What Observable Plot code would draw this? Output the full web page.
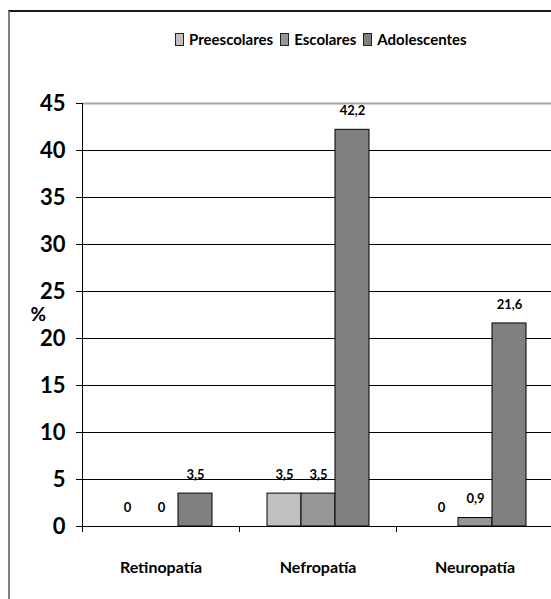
<!DOCTYPE html>
<html>
<head>
<meta charset="utf-8">
<script src="https://cdn.jsdelivr.net/npm/d3@7"></script>
<script src="https://cdn.jsdelivr.net/npm/@observablehq/plot@0.6"></script>
<style>
  html, body { margin: 0; padding: 0; background: #fff; }
  #wrap { position: relative; width: 551px; height: 599px; overflow: hidden; }
  #box { position: absolute; left: 8px; top: 10px; width: 700px; height: 700px;
         border-left: 2px solid #808080; border-top: 2px solid #1a1a1a; box-sizing: border-box; }
  #legend { position: absolute; left: 175px; top: 31px; display: flex; align-items: center;
            font-family: Lato, sans-serif;
            font-weight: bold; font-size: 15px; line-height: 16px; color: #000; white-space: nowrap; }
  #legend .sw { display: inline-block; width: 7px; height: 11px; border: 1px solid #222; margin-right: 5px; }
  #legend .item { display: inline-flex; align-items: center; margin-right: 7px; }
  #chart { position: absolute; left: 0; top: 0; }
</style>
</head>
<body>
<div id="wrap">
  <div id="box"></div>
  <div id="chart"></div>
  <div id="legend"></div>
</div>
<script>
const categories = ["Retinopatía", "Nefropatía", "Neuropatía"];
const series = ["Preescolares", "Escolares", "Adolescentes"];
const preescolares = [0, 3.5, 0];
const escolares = [0, 3.5, 0.9];
const adolescentes = [3.5, 42.2, 21.6];
const colors = ["#c0c0c0", "#969696", "#808080"];
const yTicks = [0, 5, 10, 15, 20, 25, 30, 35, 40, 45];

const seriesValues = [preescolares, escolares, adolescentes];
const data = [];
categories.forEach((c, i) => {
  series.forEach((s, j) => {
    data.push({category: c, series: s, value: seriesValues[j][i]});
  });
});
const fmt = v => String(v).replace(".", ",");

const W = 551, H = 599, mL = 82, mR = -2, mT = 103, mB = 73;
const step = (W - mL - mR) / categories.length;
const font = "Lato, sans-serif";

const chart = Plot.plot({
  width: W, height: H,
  marginTop: mT, marginBottom: mB, marginLeft: mL, marginRight: mR,
  style: {fontFamily: font, fontWeight: "bold", color: "#000", background: "transparent", overflow: "visible"},
  fx: {domain: categories, padding: 0, label: null},
  x: {domain: series, paddingInner: 0, paddingOuter: 0.743, axis: null},
  y: {domain: [0, 45], label: null},
  color: {domain: series, range: colors},
  marks: [
    Plot.gridY(yTicks.filter(v => v > 0 && v < 45), {stroke: "#000", strokeOpacity: 1}),
    Plot.ruleY([45], {stroke: "#a6a6a6", strokeWidth: 2}),
    Plot.barY(data, {fx: "category", x: "series", y: "value", fill: "series", stroke: "#000", strokeWidth: 1, inset: 0}),
    Plot.ruleY([0], {stroke: "#000"}),
    Plot.frame({anchor: "left", facetAnchor: "left", stroke: "#000"}),
    Plot.text(data, {fx: "category", x: "series", y: "value", text: d => fmt(d.value), dy: -19, fontSize: 13, fontWeight: "bold"}),
    Plot.axisY({ticks: yTicks, tickSize: 6, tickPadding: 11, fontSize: 22, label: null, tickFormat: d => String(d)}),
    Plot.axisFx({anchor: "bottom", tickSize: 0, tickPadding: 35, fontSize: 16, label: null}),
    Plot.axisFx({anchor: "bottom", tickSize: 6, tickFormat: () => "", dx: -step / 2, label: null}),
    Plot.text(["%"], {frameAnchor: "left", dx: -52, fontSize: 19, facetAnchor: "left", fontWeight: "bold"})
  ]
});
document.getElementById("chart").appendChild(chart);

const legend = document.getElementById("legend");
series.forEach((s, j) => {
  const item = document.createElement("span");
  item.className = "item";
  const sw = document.createElement("span");
  sw.className = "sw";
  sw.style.background = colors[j];
  const t = document.createElement("span");
  t.textContent = s;
  item.appendChild(sw);
  item.appendChild(t);
  legend.appendChild(item);
});
</script>
</body>
</html>
